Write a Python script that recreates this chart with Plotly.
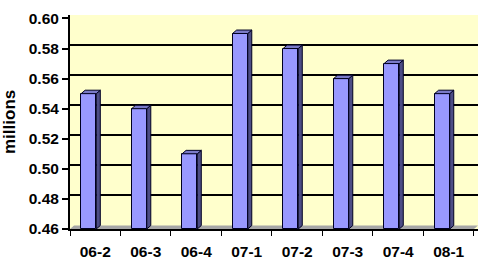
import plotly.graph_objects as go

categories = ["06-2", "06-3", "06-4", "07-1", "07-2", "07-3", "07-4", "08-1"]
values = [0.55, 0.54, 0.51, 0.59, 0.58, 0.56, 0.57, 0.55]
y_ticks = [0.46, 0.48, 0.50, 0.52, 0.54, 0.56, 0.58, 0.60]
y_tick_text = ["0.46", "0.48", "0.50", "0.52", "0.54", "0.56", "0.58", "0.60"]

# 3D look parameters (depth in axis units)
DX = 0.08
DY = 0.0023
BAR_OFF = -0.13
BAR_W = 0.30
Y0 = 0.46

FRONT = "#9999FF"
SIDE = "#4D4D85"
TOP = "#7A7AC8"
EDGE = "#000022"
FONT = "Arial, 'Liberation Sans', sans-serif"
FS = 15.5

xs = list(range(len(categories)))
fig = go.Figure()

# front faces
fig.add_trace(go.Bar(
    x=[i + BAR_OFF for i in xs], y=[v - Y0 for v in values], base=Y0,
    width=BAR_W, marker=dict(color=FRONT, line=dict(color=EDGE, width=1)),
    hoverinfo="skip", showlegend=False))

# side faces
sx, sy = [], []
for i, v in zip(xs, values):
    xr = i + BAR_OFF + BAR_W / 2
    sx += [xr, xr, xr + DX, xr + DX, xr, None]
    sy += [Y0, v, v + DY, Y0 + DY, Y0, None]
fig.add_trace(go.Scatter(x=sx, y=sy, mode="lines", fill="toself", fillcolor=SIDE,
                         line=dict(color=EDGE, width=1), hoverinfo="skip", showlegend=False))

# top faces
tx, ty = [], []
for i, v in zip(xs, values):
    xl = i + BAR_OFF - BAR_W / 2
    xr = i + BAR_OFF + BAR_W / 2
    tx += [xl, xr, xr + DX, xl + DX, xl, None]
    ty += [v, v, v + DY, v + DY, v, None]
fig.add_trace(go.Scatter(x=tx, y=ty, mode="lines", fill="toself", fillcolor=TOP,
                         line=dict(color=EDGE, width=1), hoverinfo="skip", showlegend=False))

# dummy trace on the overlay axis to activate back-wall gridlines
fig.add_trace(go.Scatter(x=[None], y=[None], yaxis="y2", showlegend=False, hoverinfo="skip"))

n = len(categories)
# floor
fig.add_shape(type="path", layer="between",
              path=f"M {-0.5},{Y0} L {n - 0.5},{Y0} L {n - 0.5 + DX},{Y0 + DY} L {-0.5 + DX},{Y0 + DY} Z",
              xref="x", yref="y", fillcolor="#A6A6A6", line=dict(width=0))

fig.update_layout(
    width=484, height=260,
    margin=dict(l=70, r=6, t=15, b=31),
    paper_bgcolor="white", plot_bgcolor="#FFFFCC",
    bargap=0,
    xaxis=dict(range=[-0.5, n - 0.5 + DX], tickvals=xs, ticktext=categories,
               ticks="", showgrid=False, zeroline=False, automargin=False,
               showline=True, linecolor="black", linewidth=2,
               tickfont=dict(family=FONT, size=FS, color="black", weight="bold"),
               ticklabelstandoff=7,
               minor=dict(tick0=-0.5, dtick=1, ticks="outside", ticklen=5,
                          tickwidth=1, tickcolor="black", showgrid=False)),
    yaxis=dict(range=[Y0, y_ticks[-1] + DY], tickvals=y_ticks, ticktext=y_tick_text,
               ticks="outside", ticklen=6, tickwidth=2, tickcolor="black",
               showgrid=False, zeroline=False, automargin=False,
               showline=True, linecolor="black", linewidth=2,
               tickfont=dict(family=FONT, size=FS, color="black", weight="bold")),
    yaxis2=dict(overlaying="y", range=[Y0 - DY, y_ticks[-1]], tickvals=y_ticks[1:-1],
                showticklabels=False, ticks="", showgrid=True, gridcolor="black",
                gridwidth=2, zeroline=False, showline=False, automargin=False),
    annotations=[dict(text="millions", textangle=-90, xref="paper", yref="paper",
                      x=0, y=0.5, xshift=-61, xanchor="center", yanchor="middle",
                      showarrow=False,
                      font=dict(family=FONT, size=17, color="black", weight="bold"))],
)

fig.write_html("out.html")
